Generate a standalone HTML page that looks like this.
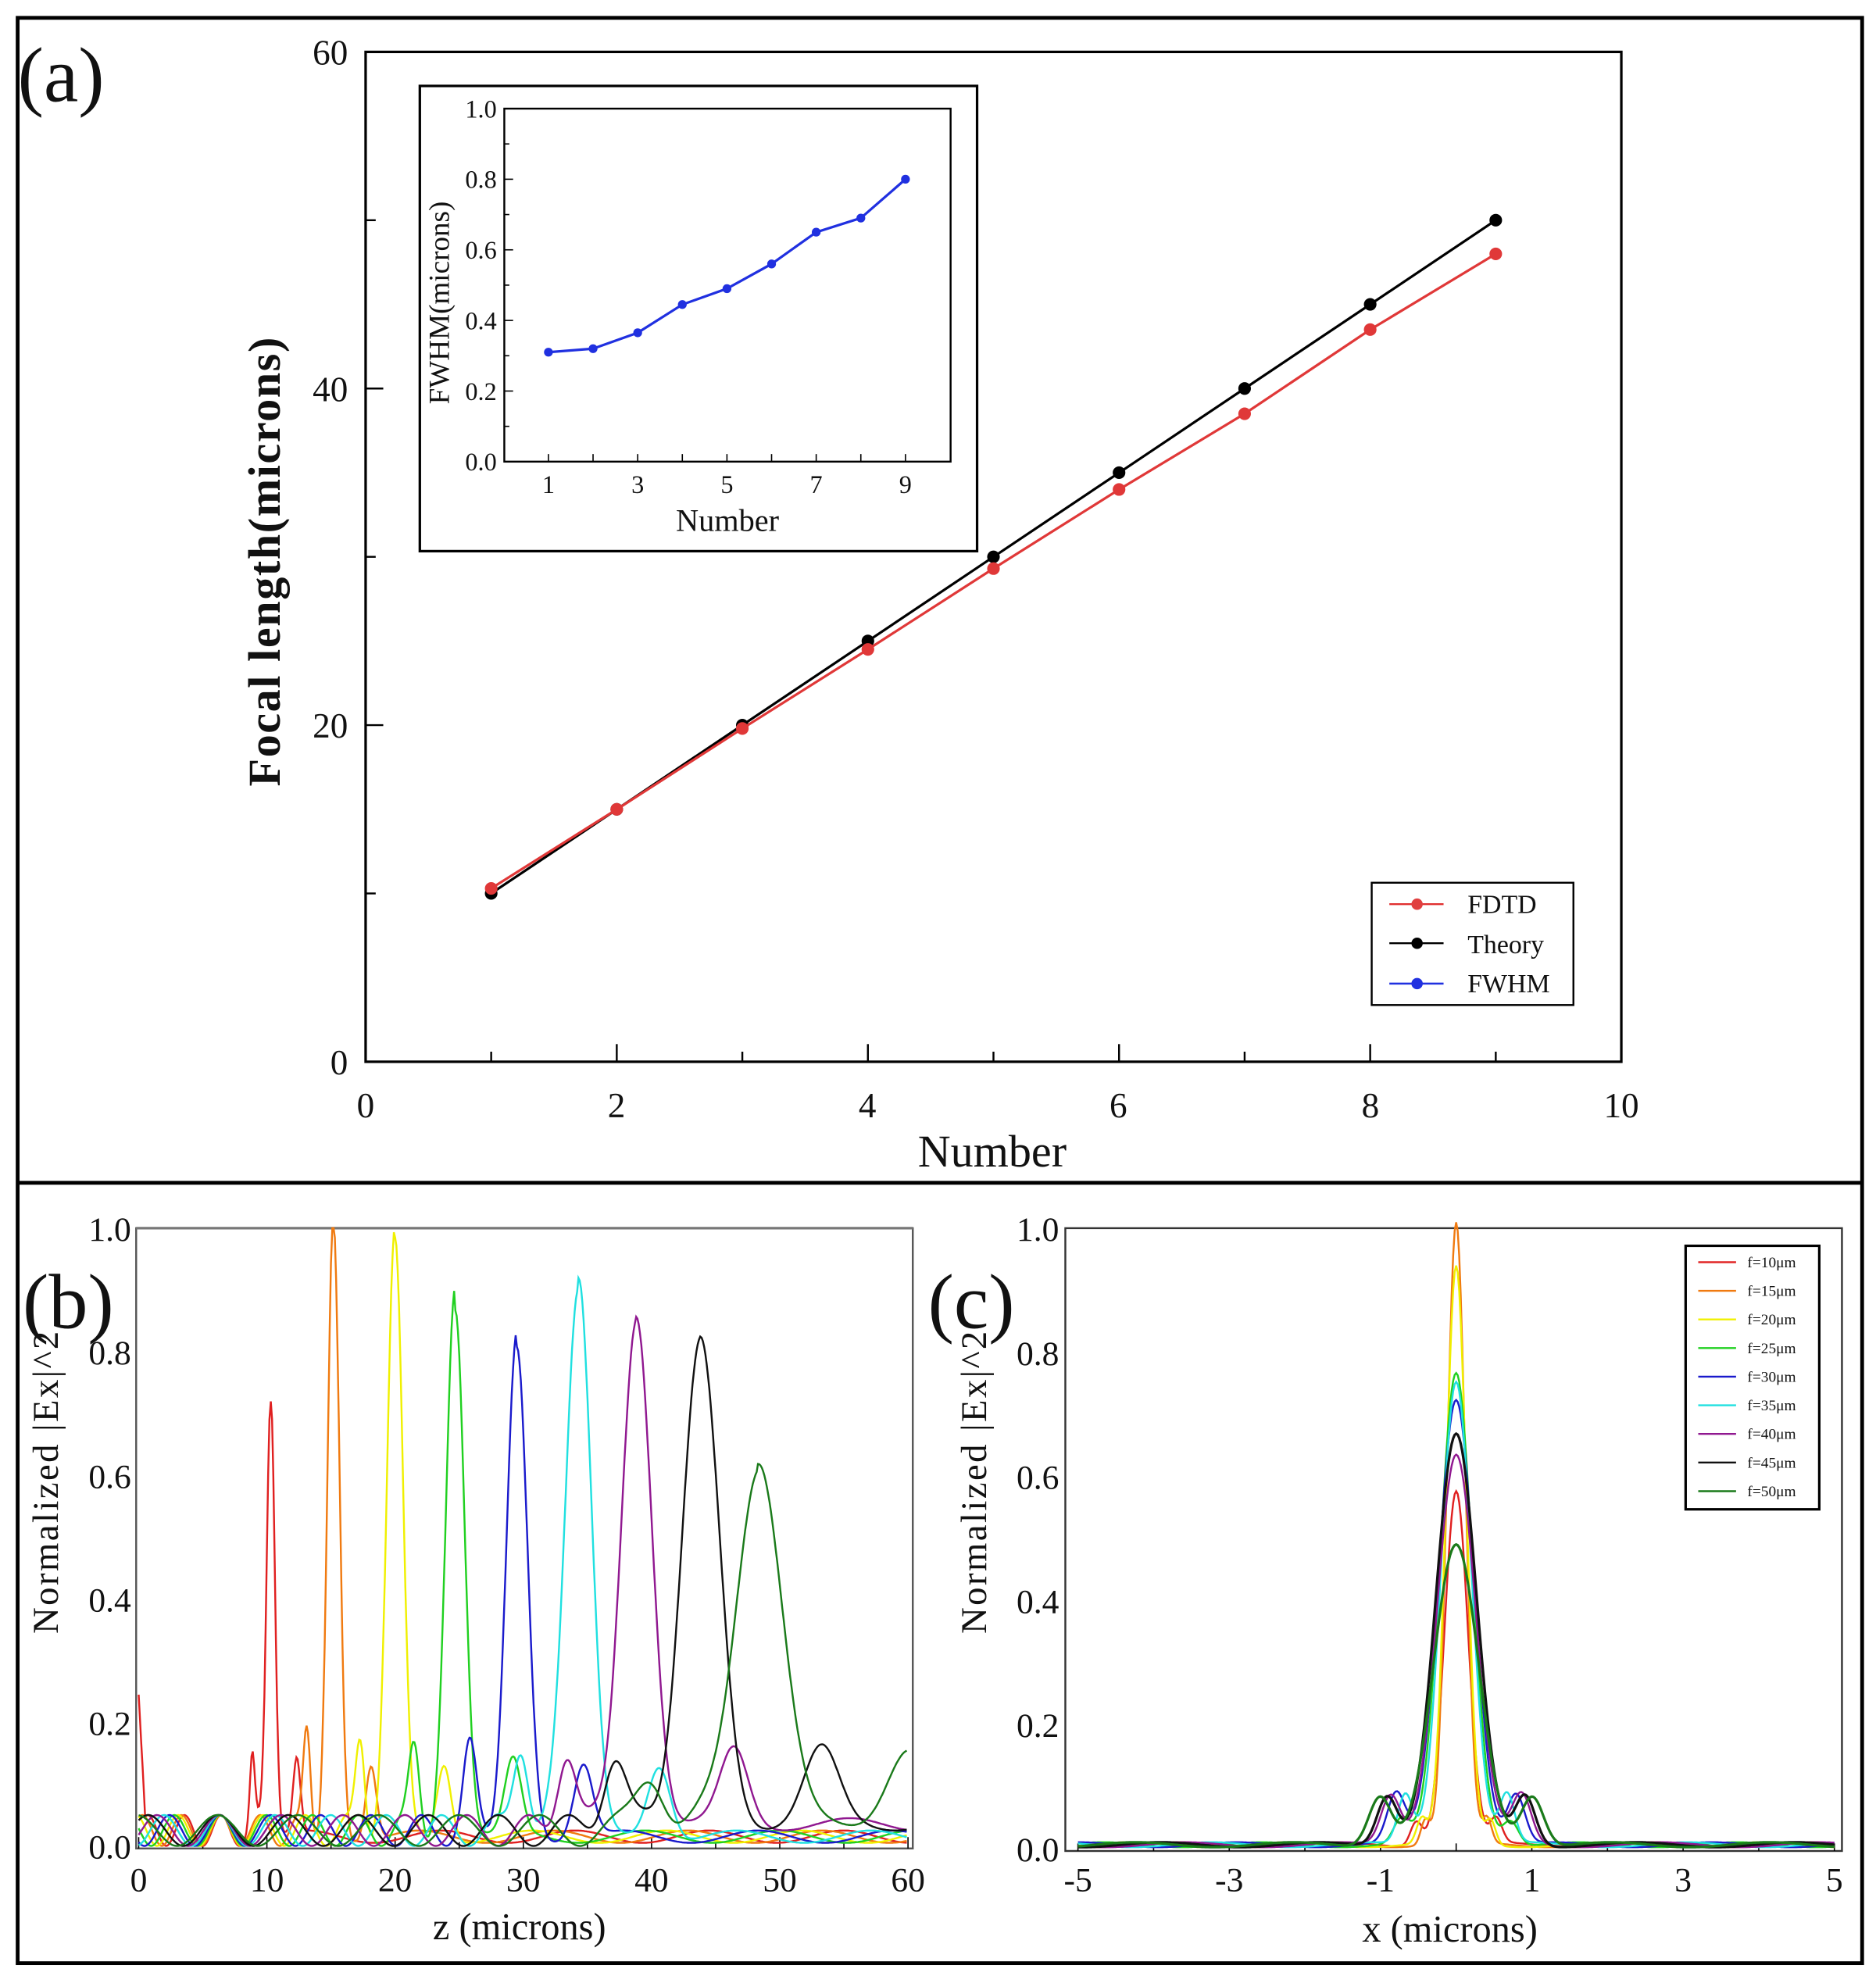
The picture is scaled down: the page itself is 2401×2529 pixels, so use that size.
<!DOCTYPE html>
<html><head><meta charset="utf-8"><style>
html,body{margin:0;padding:0;background:#fff}
svg{display:block}
text{font-family:"Liberation Serif",serif;fill:#111}
</style></head><body>
<svg id="s" width="2401" height="2529" viewBox="0 0 1488 1567" xmlns="http://www.w3.org/2000/svg">
<rect x="0" y="0" width="1488" height="1567" fill="#fff"/>
<rect x="14" y="14" width="1463" height="1543" fill="none" stroke="#000" stroke-width="3"/>
<line x1="14" y1="938" x2="1477" y2="938" stroke="#000" stroke-width="3"/>
<!-- panel a -->
<text x="14" y="80" font-size="62">(a)</text>
<rect x="290" y="41" width="996" height="801" fill="none" stroke="#000" stroke-width="2"/>
<g id="aticks" stroke="#000" stroke-width="1.5"></g>
<g font-size="28" text-anchor="middle">
<text x="290" y="886">0</text><text x="489" y="886">2</text><text x="688" y="886">4</text><text x="887" y="886">6</text><text x="1087" y="886">8</text><text x="1286" y="886">10</text>
</g>
<g font-size="28" text-anchor="end">
<text x="276" y="852">0</text><text x="276" y="585">20</text><text x="276" y="318">40</text><text x="276" y="51">60</text>
</g>
<text x="787" y="925" font-size="36" text-anchor="middle">Number</text>
<text transform="translate(222,445) rotate(-90)" font-size="36" text-anchor="middle" font-weight="bold" letter-spacing="1">Focal length(microns)</text>
<g id="adata"></g>
<!-- inset -->
<rect x="333" y="68" width="442" height="369" fill="#fff" stroke="#000" stroke-width="2"/>
<rect x="400" y="86" width="354" height="280" fill="none" stroke="#000" stroke-width="1.5"/>
<g id="iticks" stroke="#000" stroke-width="1"></g>
<g font-size="20" text-anchor="end" id="iyl"></g>
<g font-size="20" text-anchor="middle" id="ixl"></g>
<text x="577" y="421" font-size="25" text-anchor="middle">Number</text>
<text transform="translate(356,240) rotate(-90)" font-size="23" text-anchor="middle">FWHM(microns)</text>
<g id="idata"></g>
<!-- legend a -->
<rect x="1088" y="700" width="160" height="97" fill="#fff" stroke="#000" stroke-width="1.5"/>
<g font-size="21">
<line x1="1102" y1="717" x2="1145" y2="717" stroke="#e03030" stroke-width="1.5"/><circle cx="1124" cy="717" r="4.5" fill="#e04040"/><text x="1164" y="724">FDTD</text>
<line x1="1102" y1="748" x2="1145" y2="748" stroke="#000" stroke-width="1.5"/><circle cx="1124" cy="748" r="4.5" fill="#000"/><text x="1164" y="756">Theory</text>
<line x1="1102" y1="780" x2="1145" y2="780" stroke="#2030e0" stroke-width="1.5"/><circle cx="1124" cy="780" r="4.5" fill="#2030e0"/><text x="1164" y="787">FWHM</text>
</g>
<!-- panel b -->
<rect x="108" y="974" width="616" height="492" fill="none" stroke="#555" stroke-width="1.5"/>
<line x1="108" y1="974" x2="724" y2="974" stroke="#777" stroke-width="2"/>
<text x="18" y="1053" font-size="62">(b)</text>
<g id="bticks" stroke="#000" stroke-width="1"></g>
<g id="bl" font-size="27"></g>
<text x="412" y="1538" font-size="30" text-anchor="middle">z (microns)</text>
<text transform="translate(46,1175) rotate(-90)" font-size="29" text-anchor="middle" letter-spacing="1.5">Normalized |Ex|^2</text>
<g id="bdata" fill="none" stroke-width="1.5"></g>
<!-- panel c -->
<rect x="845" y="974" width="616" height="494" fill="none" stroke="#333" stroke-width="1.5"/>
<text x="736" y="1053" font-size="62">(c)</text>
<g id="cticks" stroke="#000" stroke-width="1"></g>
<g id="cl" font-size="27"></g>
<text x="1150" y="1540" font-size="30" text-anchor="middle">x (microns)</text>
<text transform="translate(782,1175) rotate(-90)" font-size="29" text-anchor="middle" letter-spacing="1.5">Normalized |Ex|^2</text>
<g id="cdata" fill="none" stroke-width="1.5"></g>
<rect x="1337" y="988" width="106" height="209" fill="#fff" stroke="#000" stroke-width="2"/>
<g id="cleg" font-size="12"></g>
</svg>
<script>
var NS="http://www.w3.org/2000/svg";
function el(p,t,a,txt){var e=document.createElementNS(NS,t);for(var k in a)e.setAttribute(k,a[k]);if(txt!==undefined)e.textContent=txt;document.getElementById(p).appendChild(e);return e;}
// panel a
var ax=function(v){return 290+v*99.6},ay=function(v){return 842-v*13.35};
for(var i=1;i<10;i++){el("aticks","line",{x1:ax(i),y1:842,x2:ax(i),y2:i%2?834:828});}
for(var v=10;v<60;v+=10){el("aticks","line",{x1:290,y1:ay(v),x2:v%20?298:304,y2:ay(v)});}
var th=[10,15,20,25,30,35,40,45,50],fd=[10.3,15,19.8,24.5,29.3,34,38.5,43.5,48];
function pl(g,xs,ys,c,r){var d="";for(var i=0;i<xs.length;i++)d+=(i?"L":"M")+xs[i].toFixed(1)+" "+ys[i].toFixed(1);el(g,"path",{d:d,fill:"none",stroke:c,"stroke-width":2});for(i=0;i<xs.length;i++)el(g,"circle",{cx:xs[i],cy:ys[i],r:r,fill:c});}
var xs=[1,2,3,4,5,6,7,8,9].map(ax);
pl("adata",xs,th.map(ay),"#000",5);
pl("adata",xs,fd.map(ay),"#e03838",5);
// inset
var ix=function(v){return 435+(v-1)*35.4},iy=function(v){return 366-v*280};
for(var v=0;v<=1.001;v+=0.1){el("iticks","line",{x1:400,y1:iy(v),x2:Math.round(v*10)%2?404:407,y2:iy(v)});}
for(var v=0;v<=1.001;v+=0.2){el("iyl","text",{x:394,y:iy(v)+7},v.toFixed(1));}
for(var i=1;i<=9;i++){el("iticks","line",{x1:ix(i),y1:366,x2:ix(i),y2:360});if(i%2)el("ixl","text",{x:ix(i),y:391},String(i));}
var fw=[0.31,0.32,0.365,0.445,0.49,0.56,0.65,0.69,0.8];
pl("idata",[1,2,3,4,5,6,7,8,9].map(ix),fw.map(iy),"#2030e0",3.5);
// panel b
var bx=function(v){return 110+v*10.17},by=function(v){return 1464-v*490};
for(var v=0;v<=60;v+=5){el("bticks","line",{x1:bx(v),y1:1466,x2:bx(v),y2:v%10?1461:1457});}
for(var v=0;v<=60;v+=10)el("bl","text",{x:bx(v),y:1500,"text-anchor":"middle"},String(v));
for(var v=0;v<=1.001;v+=0.2)el("bl","text",{x:104,y:by(v)+10,"text-anchor":"end"},v.toFixed(1));
var cols=["#e02020","#f07a10","#f0f000","#20d020","#1a1acc","#20e0e0","#901890","#111","#1a7a1a"];
var pk=[[10.3,.71,.45],[15.2,1,.65],[20,.96,.85],[24.7,.86,1],[29.5,.79,1.15],[34.3,.9,1.4],[38.8,.83,1.7],[43.8,.78,2.1],[48.3,.59,2.6]];
pk.forEach(function(p,k){var d="";for(var z=0;z<=60;z+=0.1){var y=p[1]*Math.exp(-Math.pow((z-p[0])/p[2],2));
 y+=0.16*p[1]*Math.exp(-Math.pow((z-(p[0]-p[2]*3.2))/(p[2]*0.6),2));
 y+=0.12*Math.exp(-Math.pow((z-(p[0]+p[2]*4.5))/(p[2]*0.9),2));
 if(z<p[0])y+=0.025+0.025*Math.sin(z*(2.2-k*0.15)+k);else y+=0.015+0.01*Math.sin(z*0.6+k)+ (k>5?0.02:0);
 if(k==0&&z<0.5)y+=0.22*(1-z/0.5);
 d+=(z?"L":"M")+bx(z).toFixed(1)+" "+by(Math.max(0,Math.min(1,y))).toFixed(1);}
 el("bdata","path",{d:d,stroke:cols[k]});});
// panel c
var cx=function(v){return 855+(v+5)*60},cy=function(v){return 1466-v*492};
for(var v=-5;v<=5;v++){el("cticks","line",{x1:cx(v),y1:1468,x2:cx(v),y2:1462});}
for(var v=-5;v<=5;v+=2)el("cl","text",{x:cx(v),y:1500,"text-anchor":"middle"},String(v));
for(var v=0;v<=1.001;v+=0.2)el("cl","text",{x:840,y:cy(v)+10,"text-anchor":"end"},v.toFixed(1));
var cp=[[.57,.22],[1,.17],[.93,.19],[.76,.3],[.72,.33],[.75,.28],[.63,.36],[.66,.38],[.48,.42]];
cp.forEach(function(p,k){var d="";for(var x=-5;x<=5.001;x+=0.02){var y=p[0]*Math.exp(-Math.pow(x/p[1],2));
 var s=p[1]*2.4;y+=0.08*Math.exp(-Math.pow((Math.abs(x)-s)/(p[1]*0.5),2))*(k>3?1:0.5);
 y+=0.006+0.004*Math.sin(x*3+k);
 d+=(x>-5?"L":"M")+cx(x).toFixed(1)+" "+cy(y).toFixed(1);}
 el("cdata","path",{d:d,stroke:cols[k],"stroke-width":k>6?2:1.5});});
var ln=["f=10μm","f=15μm","f=20μm","f=25μm","f=30μm","f=35μm","f=40μm","f=45μm","f=50μm"];
ln.forEach(function(t,k){var y=1001+k*22.7;el("cleg","line",{x1:1347,y1:y,x2:1377,y2:y,stroke:cols[k],"stroke-width":1.5});el("cleg","text",{x:1386,y:y+4},t);});
</script>
</body></html>
